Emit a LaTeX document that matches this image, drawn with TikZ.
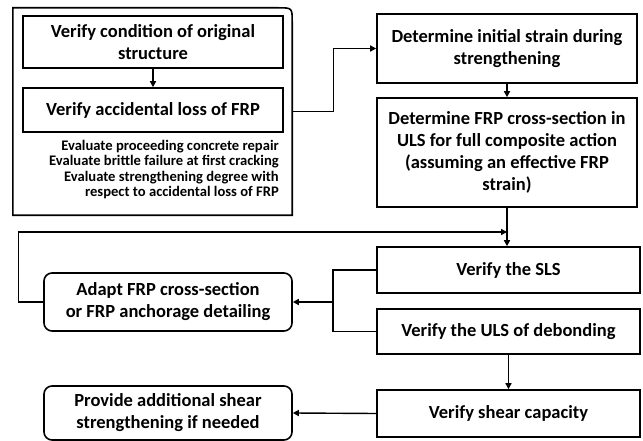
\documentclass[tikz,border=0pt]{standalone}
\usepackage{fontspec}
\setmainfont{Carlito}
\usetikzlibrary{arrows.meta, positioning, calc}

\begin{document}
\begin{tikzpicture}[
  x=1pt, y=-1pt,
  box/.style  ={draw, line width=1.6pt, align=center, inner sep=0pt,
                font=\bfseries\fontsize{18.5}{22}\selectfont},
  rbox/.style ={box, rounded corners=8pt},
  note/.style ={align=right, inner sep=0pt,
                font=\bfseries\fontsize{14.6}{15.4}\selectfont},
  arr/.style  ={-{Triangle[length=6pt,width=6pt]}, line width=1.4pt},
  wire/.style ={line width=1.4pt},
]
\useasboundingbox (0,0) rectangle (643,441);

%% ---- Left group: checks on the original structure ----
\node[box, minimum width=260pt, minimum height=52pt] (cond) at (153,42)
  {Verify condition of original\\structure};
\node[box, minimum width=260pt, minimum height=44pt] (loss) at (153,110)
  {Verify accidental loss of FRP};
\node[note, anchor=north east] (notes) at (279,140)
  {Evaluate proceeding concrete repair\\Evaluate brittle failure at first cracking\\
   Evaluate strengthening degree with\\respect to accidental loss of FRP};
\node[minimum width=279pt, minimum height=207pt, inner sep=0pt] (grp) at (152.5,111.5) {};
\draw[line width=1.6pt] (grp.south west) -- (grp.north west)
  -- ($(grp.north east)+(-14,0)$) .. controls (grp.north east) .. ($(grp.north east)+(0,14)$)
  -- (grp.south east) -- cycle;

%% ---- Right column: design steps ----
\node[box, minimum width=260pt, minimum height=69pt] (strain) at (507,48.5)
  {Determine initial strain during\\strengthening};
\node[box, minimum width=260pt, minimum height=109pt] (section) at (507,152.5)
  {Determine FRP cross-section in\\ULS for full composite action\\(assuming an effective FRP\\strain)};
\node[box, minimum width=263pt, minimum height=46pt] (sls) at (508.5,270) {Verify the SLS};
\node[box, minimum width=263pt, minimum height=45pt] (uls) at (508.5,331.5) {Verify the ULS of debonding};
\node[box, minimum width=263pt, minimum height=47pt] (shear) at (508.5,413.5) {Verify shear capacity};

%% ---- Left column: outcomes ----
\node[rbox, minimum width=248pt, minimum height=58pt] (adapt) at (168,302)
  {Adapt FRP cross-section\\or FRP anchorage detailing};
\node[rbox, minimum width=248pt, minimum height=54pt] (provide) at (168,413)
  {Provide additional shear\\strengthening if needed};

%% Fork and merge points
\coordinate (fork) at (333,302);
\coordinate (join) at (507,232);

%% ---- Arrows ----
\draw[arr] (cond) -- (loss);
\draw[arr] (grp.east) -- ++(41,0) |- (strain.west);
\draw[arr] (strain) -- (section);
\draw[arr] (section.south) -- (section.south |- sls.north);
%% SLS / ULS -> adapt, back to the loop
\draw[wire] (sls.west) -| (fork);
\draw[wire] (uls.west) -| (fork);
\draw[arr] (fork) -- (adapt.east);
\draw[arr] (adapt.west) -- ++(-25,0) |- (join);
%% ULS -> shear -> provide
\draw[arr] (uls) -- (shear);
\draw[arr] (shear.west) -- (provide.east);

\end{tikzpicture}
\end{document}
